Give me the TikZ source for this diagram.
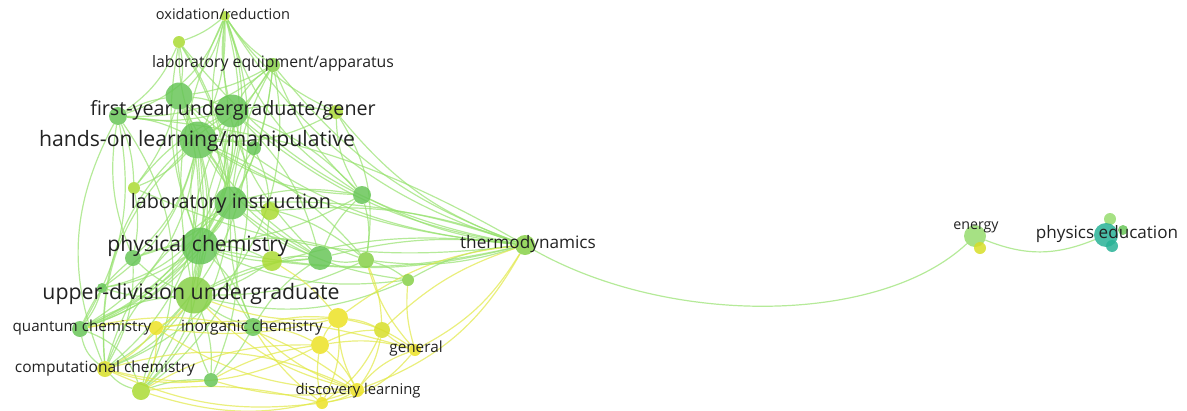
\documentclass[tikz,border=0pt]{standalone}
\usepackage{fontspec}
\setmainfont{Open Sans}
\pgfdeclarelayer{bg}
\pgfsetlayers{bg,main}
\definecolor{G1}{RGB}{104,198,88}
\definecolor{G2}{RGB}{135,208,72}
\definecolor{YG}{RGB}{170,218,52}
\definecolor{YY}{RGB}{215,222,40}
\definecolor{Y}{RGB}{236,226,36}
\definecolor{TE}{RGB}{40,178,150}
\definecolor{LG}{RGB}{150,220,110}
\definecolor{eG}{RGB}{150,225,110}
\definecolor{eY}{RGB}{225,232,70}
\definecolor{txt}{RGB}{34,34,34}
\tikzset{
  dot/.style 2 args={circle,inner sep=0pt,minimum size=#1,fill=#2,fill opacity=0.85,draw=none},
  lab/.style={font=\fontsize{#1}{#1}\selectfont,text=txt,inner sep=0pt},
  eg/.style={draw=eG,opacity=0.7,line width=1.2pt},
  ey/.style={draw=eY,opacity=0.7,line width=1.2pt},
}
\begin{document}
\begin{tikzpicture}[x=1pt,y=-1pt]
\useasboundingbox (0,0) rectangle (1187,410);
% nodes
\node[dot={10}{YG}] (ox) at (225,16) {};
\node[dot={12}{YG}] (s1) at (179,42) {};
\node[dot={14}{G2}] (leq) at (273,65) {};
\node[dot={27}{G1}] (b1) at (179,96) {};
\node[dot={33}{G1}] (fy) at (232,111) {};
\node[dot={18}{G1}] (s2) at (118,116) {};
\node[dot={14}{YG}] (g1) at (336,112) {};
\node[dot={37}{G1}] (ho) at (198,140) {};
\node[dot={14}{G1}] (s3) at (254,148) {};
\node[dot={12}{YG}] (s4) at (134,188) {};
\node[dot={18}{G1}] (s5) at (362,195) {};
\node[dot={33}{G1}] (li) at (231,203) {};
\node[dot={18}{YG}] (s6) at (270,211) {};
\node[dot={37}{G1}] (pc) at (200,246) {};
\node[dot={16}{G1}] (s7) at (133,258) {};
\node[dot={20}{YG}] (s8) at (272,261) {};
\node[dot={24}{G1}] (s9) at (320,258) {};
\node[dot={16}{G2}] (s10) at (366,260) {};
\node[dot={12}{G2}] (s11) at (408,280) {};
\node[dot={10}{G1}] (s12) at (102,288) {};
\node[dot={37}{G2}] (ud) at (194,295) {};
\node[dot={16}{G1}] (qc) at (80,329) {};
\node[dot={14}{Y}] (y1) at (156,328) {};
\node[dot={18}{G1}] (ic) at (253,327) {};
\node[dot={20}{Y}] (y2) at (338,318) {};
\node[dot={16}{YY}] (y3) at (382,330) {};
\node[dot={18}{Y}] (y4) at (320,345) {};
\node[dot={12}{Y}] (ge) at (415,350) {};
\node[dot={16}{YY}] (cc) at (105,369) {};
\node[dot={14}{G1}] (s13) at (211,380) {};
\node[dot={18}{YG}] (s14) at (141,391) {};
\node[dot={14}{Y}] (dl) at (357,390) {};
\node[dot={12}{Y}] (y5) at (322,403) {};
\node[dot={20}{G2}] (th) at (525,245) {};
\node[dot={22}{LG}] (en) at (975,236) {};
\node[dot={12}{YY}] (en2) at (980,248) {};
\node[dot={12}{LG}] (pe1) at (1110,219) {};
\node[dot={10}{G1}] (pe2) at (1123,230) {};
\node[dot={12}{TE}] (pe3) at (1112,246) {};
\node[dot={24}{TE}] (pe) at (1106,235) {};
% labels
\node[lab=14.6] (oxL) at (223,14) {oxidation/reduction};
\node[lab=15.8] (leqL) at (273,63) {laboratory equipment/apparatus};
\node[lab=19.7] (fyL) at (233,110) {first-year undergraduate/gener};
\node[lab=21.2] (hoL) at (197,141) {hands-on learning/manipulative};
\node[lab=19.8] (liL) at (231,203) {laboratory instruction};
\node[lab=21.1] (pcL) at (198,246) {physical chemistry};
\node[lab=21.3] (udL) at (191,294) {upper-division undergraduate};
\node[lab=15.2] (qcL) at (82,328) {quantum chemistry};
\node[lab=15.5] (icL) at (252,327) {inorganic chemistry};
\node[lab=15.3] (geL) at (416,349) {general};
\node[lab=15.5] (ccL) at (105,368) {computational chemistry};
\node[lab=14.8] (dlL) at (358,391) {discovery learning};
\node[lab=17.2] (thL) at (528,244) {thermodynamics};
\node[lab=14.2] (enL) at (976,227) {energy};
\node[lab=17.1] (peL) at (1107,234) {physics education};
% edges
\begin{pgfonlayer}{bg}
\foreach \a/\b/\c in {
 ox/s1/10, ox/b1/15, ox/fy/-10, ox/ho/12, ox/li/-15, ox/pc/20, ox/ud/-18, ox/leq/-10, ox/th/-20, ox/s2/25, ox/g1/-15, ox/s5/-20, ox/cc/40, ox/s9/-25, ox/qc/45,
 leq/b1/10, leq/fy/-10, leq/ho/12, leq/li/-10, leq/pc/15, leq/ud/-15, leq/s2/20, leq/th/-15, leq/s5/-12, leq/qc/30, leq/cc/40,
 s1/b1/10, s1/ho/-10, s1/li/12, s1/pc/-15, s1/th/-20, s1/s2/15, s1/s14/40,
 b1/fy/10, b1/ho/-10, b1/li/15, b1/pc/-12, b1/ud/18, b1/s2/-10, b1/s4/10, b1/th/-18, b1/cc/35, b1/s9/-15,
 fy/ho/10, fy/li/-12, fy/pc/15, fy/ud/-15, fy/s2/10, fy/s4/-12, fy/s5/12, fy/th/-15, fy/g1/10, fy/s9/15, fy/qc/30, fy/cc/-30, fy/s14/35, fy/s12/40,
 ho/li/10, ho/pc/-12, ho/ud/15, ho/s2/-10, ho/s4/12, ho/s5/-15, ho/s7/15, ho/s9/-15, ho/s10/12, ho/th/-12, ho/qc/25, ho/cc/-25, ho/s14/20, ho/ic/-15, ho/s3/10, ho/g1/-15, ho/s12/20,
 li/pc/10, li/ud/-12, li/s5/12, li/s6/-10, li/s7/12, li/s9/-12, li/s10/15, li/s11/-15, li/th/10, li/qc/20, li/cc/-20, li/s13/15, li/ic/-12, li/s3/10,
 pc/ud/10, pc/s7/-10, pc/s8/12, pc/s9/-12, pc/s10/15, pc/s11/-15, pc/s12/12, pc/th/-12, pc/qc/15, pc/cc/-15, pc/s14/20, pc/s13/-18, pc/ic/12, pc/s5/-10,
 ud/s7/10, ud/s8/-10, ud/s9/12, ud/s10/-12, ud/s12/10, ud/qc/-12, ud/cc/15, ud/s14/-15, ud/s13/12, ud/ic/-10, ud/th/15, ud/s11/-18,
 th/s5/10, th/s9/-10, th/s10/12, th/s11/-12, th/g1/15, th/s6/-12, th/s8/10, th/s2/-12, th/s4/15,
 s2/s4/10, s2/s7/-15, s2/qc/20, s2/cc/-25, s2/s14/30, s4/s7/10, s7/qc/-12, s7/cc/15, s12/qc/10, qc/cc/-20, qc/s14/25, cc/s14/-15, s14/s13/10, s13/ic/-10, ic/s9/12, s9/s10/-10, s10/s11/10, s5/s9/-12, s5/s10/12, g1/s5/-15, g1/s10/20, s3/s6/10, s6/s8/-10, s8/s9/10
}{\draw[eg] (\a) to[bend left=\c] (\b);}
\foreach \a/\b/\c in {
 y1/qc/-10, y1/cc/12, y1/ud/-12, y1/s14/15, y1/dl/-15, y1/ge/12, y1/y2/-10, y1/ic/8,
 y2/y3/10, y2/y4/-10, y2/ge/12, y2/dl/-12, y2/y5/15, y2/ic/-10, y2/ud/12, y2/s8/-10, y2/th/15,
 y3/ge/-10, y3/dl/12, y3/y4/-12, y3/y5/15, y3/s10/-10, y3/th/12,
 y4/dl/10, y4/y5/-10, y4/ge/12, y4/ic/-12, y4/cc/20, y4/s14/-15,
 ge/dl/-15, ge/y5/20, ge/s11/10, ge/th/-15, ge/s10/12,
 dl/y5/10, dl/cc/-20, dl/s14/18, dl/qc/-25, dl/ud/15, dl/th/-20, dl/ic/12,
 y5/cc/15, y5/s14/-10, y5/ic/10, s13/dl/-12, s13/y4/10, cc/s13/-12
}{\draw[ey] (\a) to[bend left=\c] (\b);}
\draw[eg] (th) .. controls (670,327) and (880,325) .. (en);
\draw[eg] (en) to[bend right=22] (pe);
\draw[eg] (en2) to[bend right=10] (en);
\end{pgfonlayer}
\end{tikzpicture}
\end{document}
